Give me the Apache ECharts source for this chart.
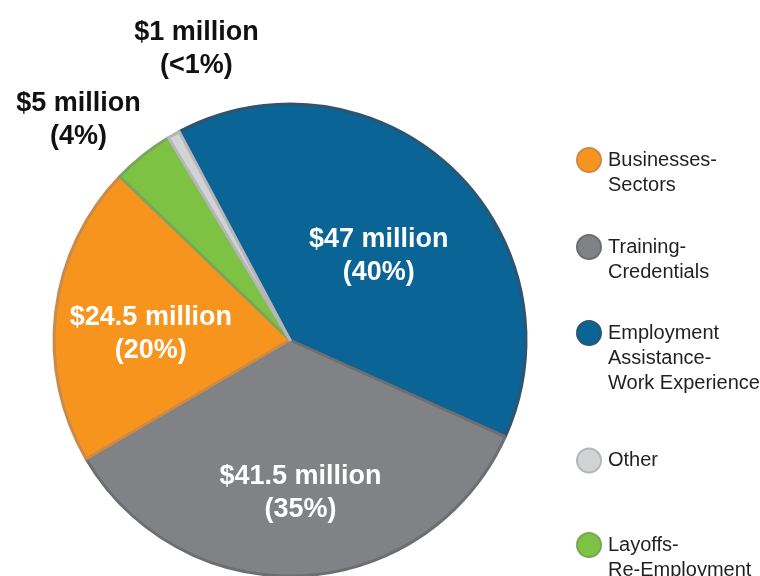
<!DOCTYPE html>
<html>
<head>
<meta charset="utf-8">
<script src="https://cdn.jsdelivr.net/npm/echarts@6/dist/echarts.min.js"></script>
<style>
  html, body { margin: 0; padding: 0; background: #fff; }
  #chart { width: 760px; height: 576px; }
</style>
</head>
<body>
<div id="chart"></div>
<script>
// slices in clockwise drawing order
const names = ['Employment\nAssistance-\nWork Experience', 'Training-\nCredentials', 'Businesses-\nSectors', 'Layoffs-\nRe-Employment', 'Other'];
const values = [47, 41.5, 24.5, 5, 1];
const amountLabels = ['$47 million', '$41.5 million', '$24.5 million', '$5 million', '$1 million'];
const percentLabels = ['(40%)', '(35%)', '(20%)', '(4%)', '(<1%)'];
// legend order top to bottom
const legendOrder = ['Businesses-\nSectors', 'Training-\nCredentials', 'Employment\nAssistance-\nWork Experience', 'Other', 'Layoffs-\nRe-Employment'];

const fills = ['#0a6496', '#808285', '#f7941d', '#7dc242', '#d1d3d4'];
const borders = ['#2f5470', '#6d6e71', '#c98a4b', '#79a65c', '#b5b6b8'];
const labelColors = ['#fff', '#fff', '#fff', '#111', '#111'];
const labelShift = [[6, 4], [4, 32], [-19, 8], [-136, -125], [-34, -186]];
const legendTops = [160, 247, 333, 460, 545];

const chart = echarts.init(document.getElementById('chart'));

const pieData = names.map((n, i) => ({
    name: n,
    value: values[i],
    itemStyle: { color: fills[i], borderColor: borders[i], borderWidth: 3 },
    label: { color: labelColors[i] }
}));

// icon sits beside the first line: pad the text with blank lines above
const legends = legendOrder.map((n, i) => {
    const lines = n.split('\n').length;
    return {
        data: [n],
        orient: 'vertical',
        left: 576,
        top: legendTops[i] - (2 * lines - 1) * 12.5,
        padding: 0,
        itemWidth: 24,
        itemHeight: 24,
        icon: 'circle',
        selectedMode: false,
        itemStyle: { borderWidth: 2 },
        formatter: (name) => '\n'.repeat(lines - 1) + name,
        textStyle: {
            fontFamily: 'Liberation Sans',
            fontSize: 20,
            lineHeight: 25,
            color: '#231f20',
            padding: [0, 0, 0, 2]
        }
    };
});

chart.setOption({
    animation: false,
    legend: legends,
    series: [{
        type: 'pie',
        center: [290, 340],
        radius: 236,
        startAngle: 118,
        clockwise: true,
        avoidLabelOverlap: false,
        label: {
            show: true,
            position: 'inside',
            formatter: (p) => amountLabels[p.dataIndex] + '\n' + percentLabels[p.dataIndex],
            fontFamily: 'Liberation Sans',
            fontWeight: 'bold',
            fontSize: 27,
            lineHeight: 33,
            align: 'center'
        },
        labelLine: { show: false },
        labelLayout: (p) => ({ dx: labelShift[p.dataIndex][0], dy: labelShift[p.dataIndex][1] }),
        emphasis: { disabled: true },
        data: pieData
    }]
});
</script>
</body>
</html>
